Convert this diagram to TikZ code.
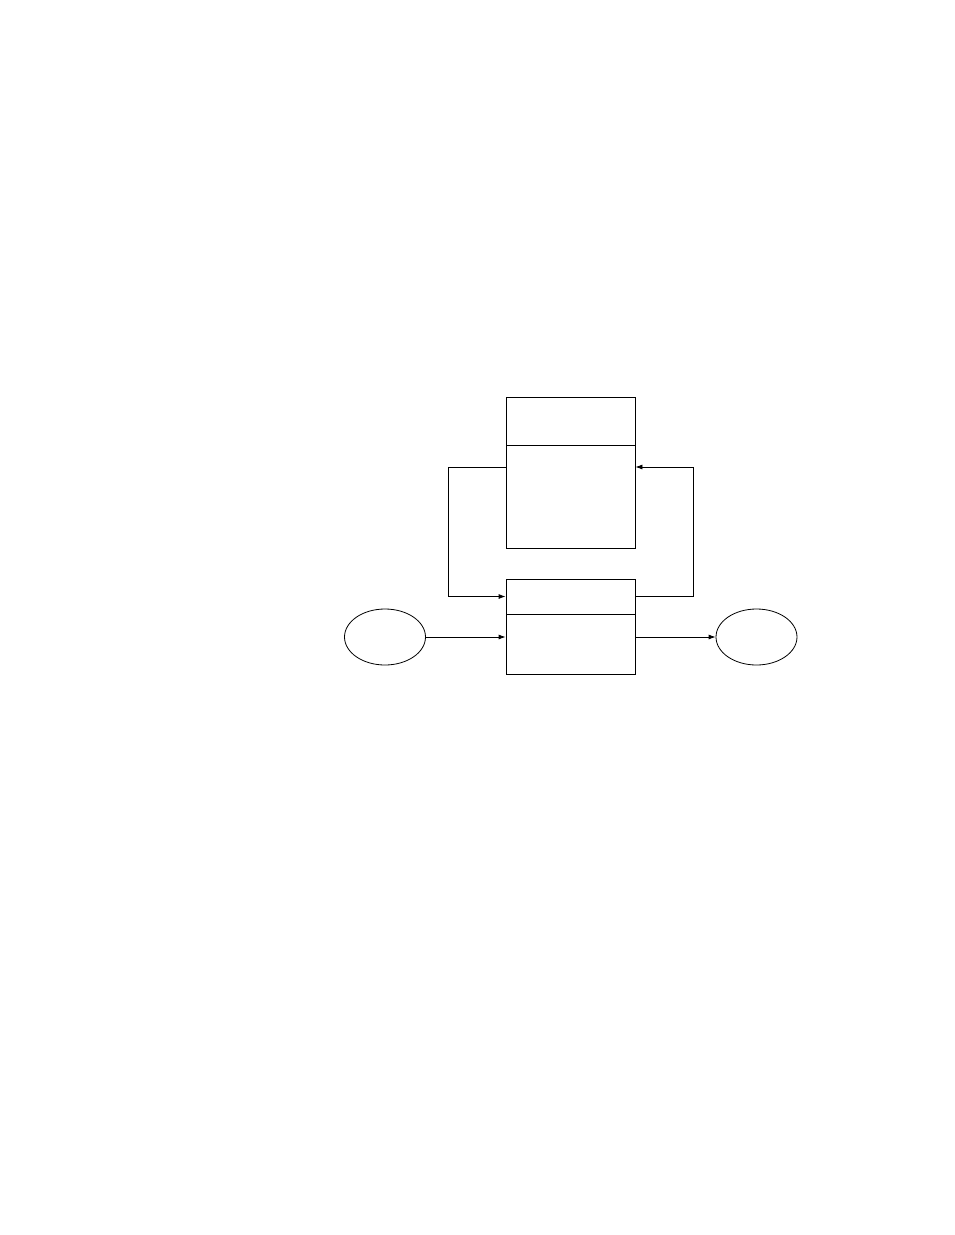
\documentclass[tikz,border=0pt]{standalone}
\usetikzlibrary{arrows.meta,shapes.geometric}
\begin{document}
\begin{tikzpicture}[x=1pt,y=-1pt,
  box/.style={draw,line width=0.8pt,rectangle,inner sep=0pt,minimum width=129pt},
  oval/.style={draw,line width=0.8pt,ellipse,inner sep=0pt,minimum width=81pt,minimum height=56pt},
  conn/.style={line width=0.8pt,-{Latex[length=7pt,width=5pt]}},
  plain/.style={line width=0.8pt}]
\useasboundingbox (0,0) rectangle (954,1235);
% upper box
\node[box,minimum height=48pt] (topA) at (570.5,421) {};
\node[box,minimum height=103pt,anchor=north] (topB) at (topA.south) {};
% lower box
\node[box,minimum height=35pt] (botA) at (570.5,596.5) {};
\node[box,minimum height=60pt,anchor=north] (botB) at (botA.south) {};
% ellipses
\node[oval] (inE) at (385,637) {};
\node[oval] (outE) at (756.5,637) {};
% loop corners
\coordinate (l1) at (448,467);
\coordinate (r1) at (693,467);
% connectors
\draw[conn] (topB.west |- l1) -- (l1) |- (botA.west);
\draw[conn] (botA.east) -| (r1) -- (topB.east |- r1);
\draw[conn] (inE.east) -- (inE.east -| botB.west);
\draw[conn] (outE.west -| botB.east) -- (outE.west);
\end{tikzpicture}
\end{document}
